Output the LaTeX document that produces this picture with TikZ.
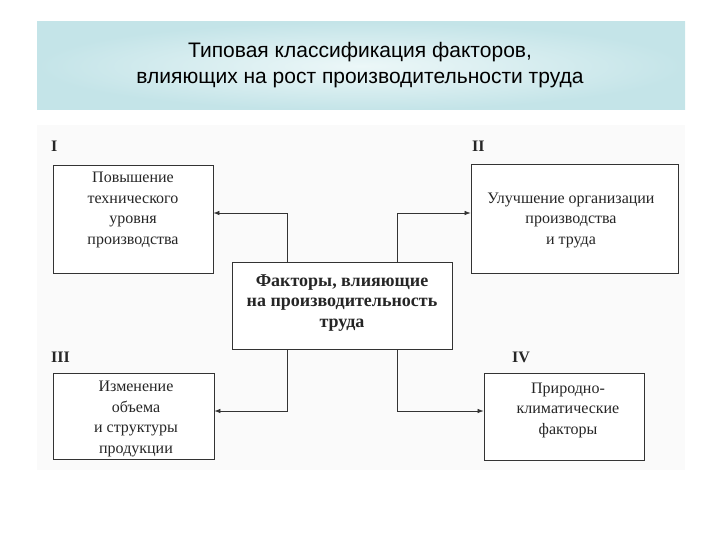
\documentclass[tikz,border=0pt]{standalone}
\usepackage{fontspec}
\setmainfont{Liberation Serif}
\newfontfamily\titlefont{Liberation Sans}
\usetikzlibrary{positioning,arrows.meta}

\definecolor{bandedge}{RGB}{196,228,232}
\definecolor{bandmid}{RGB}{236,247,248}

\begin{document}
\begin{tikzpicture}[x=1pt, y=-1pt,
  factor/.style={draw=black!80, line width=0.8pt, fill=white, inner sep=0pt},
  boxtext/.style={align=center, font=\fontsize{16}{20.5}\selectfont, text=black!85, inner sep=0pt},
  maintext/.style={align=center, font=\fontsize{18}{20.5}\selectfont\bfseries, text=black!85, inner sep=0pt},
  numlabel/.style={font=\fontsize{16}{16}\selectfont\bfseries, text=black!85, anchor=west, inner sep=0pt},
  link/.style={draw=black!80, line width=0.7pt},
  arrowlink/.style={link, -{Latex[length=6pt,width=4.5pt]}}]
  \useasboundingbox (0,0) rectangle (720,540);

  % Title band
  \shade[inner color=bandmid, outer color=bandedge] (37,22) rectangle (685,110);
  \node[font=\titlefont\fontsize{21}{26}\selectfont, align=center] (title) at (360,65)
    {Типовая классификация факторов,\\влияющих на рост производительности труда};

  % Sheet
  \fill[black!2] (37,125) rectangle (685,470);

  % Central box
  \node[factor, minimum width=220, minimum height=87] (main) at (342,305.5) {};
  \node[maintext] (maintxt) at (342,303) {Факторы, влияющие\\на производительность\\труда};

  % Factor groups
  \node[factor, minimum width=160, minimum height=108] (b1) at (133,219) {};
  \node[boxtext] (t1) at (133,210) {Повышение\\технического\\уровня\\производства};
  \node[numlabel] (n1) at (51,146) {I};

  \node[factor, minimum width=207, minimum height=109] (b2) at (574.5,218.5) {};
  \node[boxtext] (t2) at (571,220) {Улучшение организации\\производства\\и труда};
  \node[numlabel] (n2) at (472,146) {II};

  \node[factor, minimum width=161, minimum height=86] (b3) at (133.5,416) {};
  \node[boxtext] (t3) at (136,419) {Изменение\\объема\\и структуры\\продукции};
  \node[numlabel] (n3) at (51,357) {III};

  \node[factor, minimum width=160, minimum height=87] (b4) at (564,416.5) {};
  \node[boxtext] (t4) at (568,410) {Природно-\\климатические\\факторы};
  \node[numlabel] (n4) at (512,357) {IV};

  % Connectors
  \coordinate (upleft) at (287,213);
  \coordinate (upright) at (397,213);
  \coordinate (downleft) at (287,411);
  \coordinate (downright) at (397,411);
  \draw[arrowlink] (main.north -| upleft) -- (upleft) -- (b1.east |- upleft);
  \draw[arrowlink] (main.north -| upright) -- (upright) -- (b2.west |- upright);
  \draw[arrowlink] (main.south -| downleft) -- (downleft) -- (b3.east |- downleft);
  \draw[arrowlink] (main.south -| downright) -- (downright) -- (b4.west |- downright);
\end{tikzpicture}
\end{document}
